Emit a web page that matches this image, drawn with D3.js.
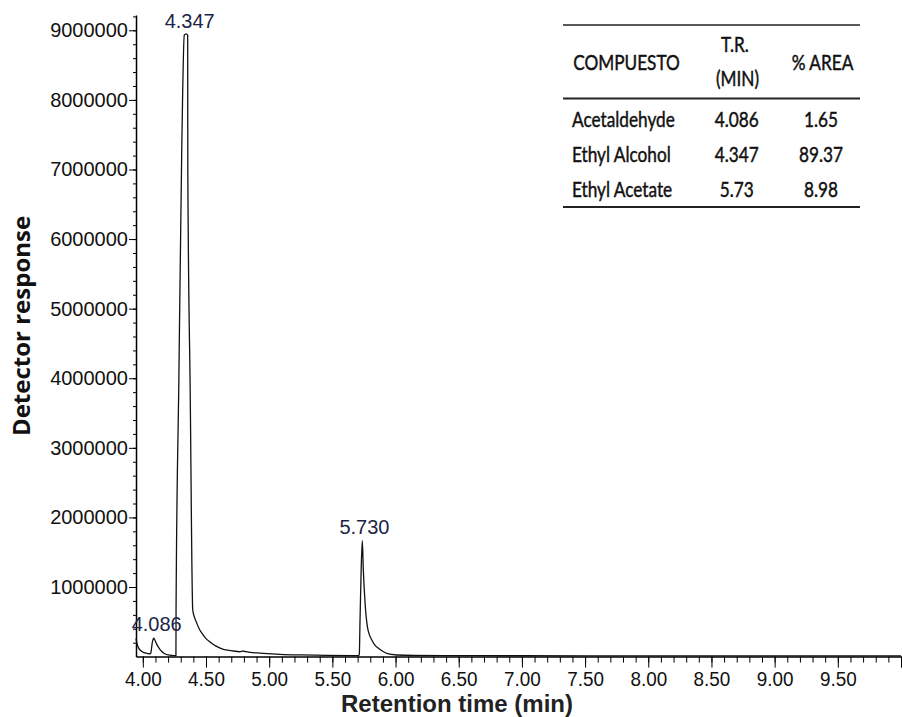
<!DOCTYPE html>
<html>
<head>
<meta charset="utf-8">
<script src="https://cdn.jsdelivr.net/npm/d3@7"></script>
<style>
  body { margin: 0; background: #fff; }
  #root { width: 902px; height: 717px; }
</style>
</head>
<body>
<div id="root"></div>
<script>
// chromatogram trace (time in min, response in counts)
const retentionTime = [3.946, 3.951, 3.957, 3.966, 3.978, 3.990, 4.004, 4.018, 4.031, 4.045, 4.057,
  4.063, 4.069, 4.074, 4.080, 4.086, 4.093, 4.102, 4.112, 4.122, 4.135, 4.150, 4.162, 4.178, 4.201,
  4.225, 4.250, 4.262, 4.263, 4.285, 4.308, 4.328, 4.342, 4.355, 4.356, 4.375, 4.395, 4.410, 4.427,
  4.446, 4.466, 4.495, 4.532, 4.580, 4.637, 4.700, 4.769, 4.790, 4.820, 4.870, 4.951, 5.086, 5.250,
  5.450, 5.650, 5.708, 5.713, 5.719, 5.728, 5.737, 5.745, 5.759, 5.777, 5.792, 5.812, 5.835, 5.864,
  5.895, 5.930, 6.009, 6.150, 6.400, 7.000, 8.000, 9.000, 10.000];
const response = [263000, 215000, 167000, 125000, 95000, 76000, 62000, 53000, 47000, 42000, 39000,
  50000, 120000, 190000, 240000, 265000, 245000, 210000, 172000, 140000, 103000, 74000, 56000, 38000, 24000,
  17000, 15000, 15000, 670000, 3960000, 7280000, 8930000, 8950000, 8930000, 7000000, 3800000, 670000, 560000, 480000,
  400000, 340000, 270000, 210000, 150000, 105000, 85000, 70000, 78000, 70000, 58000, 47000, 33000, 24000,
  18000, 15000, 16000, 30000, 530000, 1250000, 1665000, 1244000, 766000, 430000, 320000, 239000, 170000, 119000,
  80000, 47000, 23000, 16000, 14000, 12000, 11000, 10000, 10000];

// labelled peaks
const peakTimes = [4.086, 4.347, 5.730];
const peakResponse = [265000, 8930000, 1665000];
const peakLabels = ['4.086', '4.347', '5.730'];

// axis ticks
const yTickValues = [1000000, 2000000, 3000000, 4000000, 5000000, 6000000, 7000000, 8000000, 9000000];
const xTickValues = [4.0, 4.5, 5.0, 5.5, 6.0, 6.5, 7.0, 7.5, 8.0, 8.5, 9.0, 9.5, 10.0];
const xTickLabels = ['4.00', '4.50', '5.00', '5.50', '6.00', '6.50', '7.00', '7.50', '8.00', '8.50', '9.00', '9.50', ''];

// results table
const tableHeader = ['COMPUESTO', 'T.R.', '(MIN)', '% AREA'];
const compounds = ['Acetaldehyde', 'Ethyl Alcohol', 'Ethyl Acetate'];
const trMin = ['4.086', '4.347', '5.73'];
const areaPct = ['1.65', '89.37', '8.98'];

buildChart();

function buildChart() {
    const w = 902;
    const h = 717;
    const left = 136, right = 901, top = 15, bottom = 656.6;

    const svg = d3.select('#root')
        .append('svg')
        .attr('width', w)
        .attr('height', h)
        .style('font-family', '"Liberation Sans", Arial, sans-serif');

    const x = d3.scaleLinear().domain([3.946, 10.0]).range([left, right]);
    const y = d3.scaleLinear().domain([0, 9220000]).range([bottom, top]);

    // -- minor ticks first, majors on top
    const xMinor = d3.range(40, 101).map(d => d / 10);
    svg.append('g')
        .attr('transform', `translate(0,${bottom})`)
        .call(d3.axisBottom(x).tickValues(xMinor).tickSize(6).tickSizeOuter(0).tickFormat(''))
        .call(g => g.select('.domain').remove());

    const yMinor = d3.range(1, 47).map(d => d * 200000);
    svg.append('g')
        .attr('transform', `translate(${left},0)`)
        .call(d3.axisLeft(y).tickValues(yMinor).tickSize(3).tickSizeOuter(0).tickFormat(''))
        .call(g => g.select('.domain').remove());

    // -- x axis
    svg.append('g')
        .attr('id', 'x-axis')
        .attr('transform', `translate(0,${bottom})`)
        .call(d3.axisBottom(x)
            .tickValues(xTickValues)
            .tickSize(11)
            .tickSizeOuter(0)
            .tickPadding(3)
            .tickFormat((d, i) => xTickLabels[i]))
        .call(g => g.selectAll('text')
            .attr('fill', '#111')
            .style('font-size', '21px')
            .attr('transform', 'scale(0.9,1)'))
        .call(g => g.select('.domain').attr('stroke-width', 1.5));

    // -- y axis
    svg.append('g')
        .attr('id', 'y-axis')
        .attr('transform', `translate(${left},0)`)
        .call(d3.axisLeft(y)
            .tickValues(yTickValues)
            .tickSize(7)
            .tickSizeOuter(0)
            .tickPadding(1)
            .tickFormat(d3.format('d')))
        .call(g => g.selectAll('text')
            .attr('fill', '#111')
            .style('font-size', '20px'))
        .call(g => g.select('.domain').attr('stroke-width', 1.5));

    // the trace
    const pts = retentionTime.map((t, i) => [t, response[i]]);
    const line = d3.line()
        .x(d => x(d[0]))
        .y(d => y(d[1]))
        .curve(d3.curveMonotoneX);
    svg.append('path')
        .datum(pts)
        .attr('d', line)
        .attr('fill', 'none')
        .attr('stroke', '#111')
        .attr('stroke-width', 1.3);

    // peak labels
    svg.selectAll('.peak-label')
        .data(peakLabels)
        .enter()
        .append('text')
        .attr('class', 'peak-label')
        .attr('x', (d, i) => x(peakTimes[i]) + 3)
        .attr('y', (d, i) => y(peakResponse[i]) - 7)
        .attr('text-anchor', 'middle')
        .attr('fill', '#1c2448')
        .style('font-size', '20px')
        .text(d => d);

    // axis titles
    svg.append('text')
        .attr('text-anchor', 'middle')
        .attr('transform', 'translate(30,326)rotate(-90)')
        .style('font-family', '"Open Sans", sans-serif')
        .style('font-weight', 700)
        .style('font-size', '24px')
        .attr('fill', '#111')
        .text('Detector response');

    svg.append('text')
        .attr('text-anchor', 'middle')
        .attr('x', 457)
        .attr('y', 712)
        .style('font-weight', 700)
        .style('font-size', '24px')
        .attr('fill', '#222')
        .text('Retention time (min)');

    // table, top right
    const tbl = svg.append('g').attr('id', 'table');
    const rule = (yy, sw) => tbl.append('line')
        .attr('x1', 563).attr('x2', 860)
        .attr('y1', yy).attr('y2', yy)
        .attr('stroke', '#222')
        .attr('stroke-width', sw);
    rule(25, 1.4);
    rule(98.5, 2.2);
    rule(207, 2.2);

    const cell = (txt, cx, cy, anchor) => tbl.append('text')
        .attr('transform', `translate(${cx},${cy}) scale(0.82,1)`)
        .attr('text-anchor', anchor)
        .style('font-family', 'Lato, "Noto Sans", sans-serif')
        .style('font-size', '21px')
        .attr('fill', '#111')
        .attr('stroke', '#111')
        .attr('stroke-width', 0.45)
        .text(txt);

    cell(tableHeader[0], 626.5, 70, 'middle');
    cell(tableHeader[1], 735, 52, 'middle');
    cell(tableHeader[2], 737.5, 86, 'middle');
    cell(tableHeader[3], 822.5, 70, 'middle');

    compounds.forEach((c, i) => {
        const rowY = 126.5 + i * 35;
        cell(c, 572, rowY, 'start');
        cell(trMin[i], 736.7, rowY, 'middle');
        cell(areaPct[i], 821, rowY, 'middle');
    });
}
</script>
</body>
</html>
